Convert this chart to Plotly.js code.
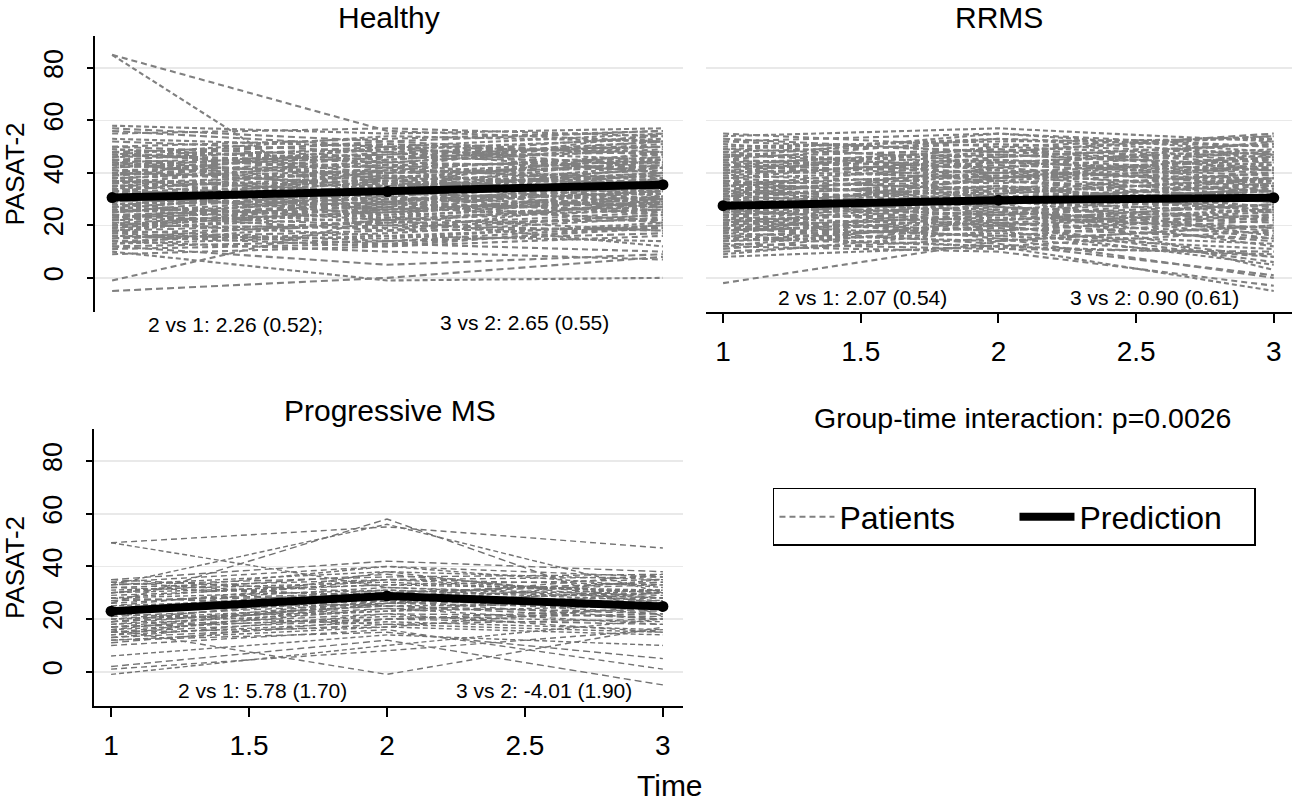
<!DOCTYPE html>
<html>
<head>
<meta charset="utf-8">
<script src="https://cdn.plot.ly/plotly-3.0.1.min.js"></script>
<style>
  html, body { margin: 0; padding: 0; background: #ffffff; }
  #chart { width: 1300px; height: 803px; }
</style>
</head>
<body>
<div id="chart"></div>
<script>
// Visit times
const times = [1, 2, 3];

// Healthy patients: PASAT-2 score at visit 1, 2 and 3 (one entry per patient)
const healthyT1 = [85, 85, -5, -1, 10, 12, 14, 58, 57, 55, 53, 52, 50, 49, 48, 47, 46, 45, 44, 43,
  42, 41, 40, 39, 38, 37, 36, 35, 34, 33, 32, 31, 30, 29, 28, 27, 26, 25, 24, 23,
  22, 21, 20, 19, 18, 17, 16, 15, 14, 13, 12, 11, 35, 45, 40, 30, 25, 20, 38, 33,
  28, 43, 48, 23, 18, 31, 36, 26, 41, 16, 21, 50, 34, 29, 24, 19, 39, 44, 27, 32,
  56, 9, 47, 22, 37, 13, 45, 40, 35, 30, 25, 20, 15, 47, 42, 37, 32, 27, 22, 17,
  44, 39, 34, 29, 24, 19, 49, 46, 33, 28, 23, 18, 38, 43, 31, 26];
const healthyT2 = [56, 18, 0, 23, -1, 5, 10, 55, 52, 57, 50, 48, 53, 45, 51, 44, 49, 42, 47, 40,
  46, 43, 38, 44, 41, 35, 40, 37, 39, 31, 36, 34, 28, 33, 30, 32, 25, 29, 27, 26,
  24, 25, 19, 23, 21, 20, 15, 18, 17, 16, 14, 13, 30, 38, 48, 38, 34, 28, 32, 42,
  22, 37, 40, 31, 26, 27, 45, 36, 35, 12, 16, 46, 26, 35, 20, 30, 50, 33, 41, 24,
  50, 12, 54, 33, 29, 22, 50, 36, 41, 26, 31, 25, 22, 42, 49, 33, 39, 23, 29, 13,
  39, 46, 29, 37, 18, 27, 44, 52, 28, 34, 29, 14, 43, 47, 38, 21];
const healthyT3 = [52, 30, 8, 18, 0, 9, 7, 57, 56, 54, 55, 50, 56, 52, 47, 49, 53, 46, 50, 45,
  48, 44, 46, 42, 47, 40, 43, 41, 36, 38, 34, 39, 33, 37, 32, 35, 30, 33, 28, 31,
  27, 29, 24, 26, 22, 25, 21, 19, 23, 14, 17, 10, 28, 36, 40, 44, 40, 35, 30, 36,
  26, 32, 42, 24, 30, 22, 51, 28, 39, 16, 20, 44, 31, 45, 18, 34, 48, 27, 38, 34,
  40, 20, 52, 42, 25, 12, 42, 48, 31, 36, 27, 33, 28, 55, 45, 42, 29, 31, 21, 19,
  35, 52, 40, 33, 24, 38, 50, 47, 26, 43, 36, 20, 37, 54, 30, 29];

// RRMS patients
const rrmsT1 = [-2, 8, 10, 12, 9, 11, 55, 54, 53, 52, 50, 49, 48, 47, 46, 45, 44, 43, 42, 41,
  40, 39, 38, 37, 36, 35, 34, 33, 32, 31, 30, 29, 28, 27, 26, 25, 24, 23, 22, 21,
  20, 19, 18, 17, 16, 15, 14, 13, 30, 25, 35, 20, 40, 15, 45, 28, 33, 38, 22, 43,
  18, 48, 27, 32, 12, 37, 24, 42, 29, 17, 51, 26, 36, 21, 31, 14, 46, 19, 44, 39,
  34, 29, 24, 19, 14, 49, 41, 36, 31, 26, 21, 16, 43, 38, 33, 28, 23, 18, 47, 52,
  35, 30, 25, 20, 40, 45, 27, 22];
const rrmsT2 = [14, 12, 15, 10, 18, 20, 50, 57, 48, 55, 52, 46, 51, 44, 49, 42, 47, 40, 45, 38,
  43, 36, 41, 34, 39, 32, 37, 30, 35, 28, 33, 26, 31, 24, 29, 22, 27, 20, 25, 18,
  23, 16, 21, 14, 19, 12, 17, 11, 38, 33, 44, 28, 50, 24, 53, 35, 27, 46, 30, 37,
  26, 41, 32, 40, 22, 29, 15, 48, 21, 25, 44, 38, 31, 29, 42, 20, 55, 13, 38, 45,
  28, 35, 30, 24, 21, 53, 47, 31, 37, 20, 27, 12, 49, 33, 39, 24, 31, 22, 42, 48,
  40, 25, 29, 16, 44, 40, 34, 18];
const rrmsT3 = [20, -5, 0, -3, 5, 8, 54, 52, 55, 50, 53, 51, 47, 49, 45, 48, 43, 46, 41, 44,
  39, 42, 37, 40, 35, 38, 33, 36, 31, 34, 29, 32, 27, 30, 25, 28, 23, 26, 21, 24,
  19, 22, 17, 20, 15, 18, 13, 10, 42, 37, 40, 34, 46, 28, 50, 25, 22, 51, 16, 30,
  12, 36, 38, 45, 26, 33, 8, 54, 14, 31, 41, 47, 26, 3, 35, 6, 48, 1, 46, 37,
  38, 27, 33, 18, 25, 47, 42, 35, 43, 24, 15, 9, 41, 40, 31, 35, 26, 28, 52, 44,
  33, 19, 36, 11, 48, 38, 29, 23];

// Progressive MS patients
const progT1 = [49, 49, 26, 16, 33, 35, 34, 33, 33, 32, 31, 30, 29, 28, 27, 26, 25, 24, 23, 22,
  21, 20, 20, 19, 18, 18, 17, 17, 16, 15, 15, 14, 13, 13, 12, 12, 10, 6, 2, 1,
  -1, 35, 34, 30, 28, 25, 22, 19, 16, 14, 11, 21, 30, 27, 24, 20, 17, 32, 23, 19,
  15, 28];
const progT2 = [55, 32, 58, -1, 56, 42, 40, 38, 36, 35, 34, 37, 33, 31, 30, 32, 29, 28, 27, 30,
  26, 28, 25, 24, 27, 23, 22, 26, 21, 20, 24, 19, 18, 22, 17, 15, 16, 14, 12, 8,
  10, 30, 28, 40, 25, 35, 18, 30, 27, 26, 20, 38, 33, 29, 31, 23, 20, 29, 26, 25,
  17, 35];
const progT3 = [47, 28, 21, 17, 30, 38, 36, 35, 37, 33, 30, 28, 35, 27, 34, 29, 31, 25, 30, 24,
  27, 22, 26, 23, 20, 25, 21, 24, 19, 22, 18, 16, 20, 15, 14, 5, 1, 10, -5, 16,
  20, 34, 37, 32, 20, 36, 15, 33, 28, 31, 24, 26, 31, 26, 28, 30, 18, 24, 35, 22,
  25, 30];

// Model predictions per group at visit 1, 2 and 3
const healthyPred = [30.6, 32.9, 35.5];
const rrmsPred = [27.5, 29.6, 30.5];
const progPred = [23.0, 28.8, 24.8];

// Contrast labels under each panel
const healthyNotes = ['2 vs 1: 2.26 (0.52);', '3 vs 2: 2.65 (0.55)'];
const rrmsNotes = ['2 vs 1: 2.07 (0.54)', '3 vs 2: 0.90 (0.61)'];
const progNotes = ['2 vs 1: 5.78 (1.70)', '3 vs 2: -4.01 (1.90)'];

const panelTitles = ['Healthy', 'RRMS', 'Progressive MS'];
const interactionText = 'Group-time interaction: p=0.0026';
const yTicks = [0, 20, 40, 60, 80];
const xTicks = [1, 1.5, 2, 2.5, 3];

const FONT = 'Liberation Sans, Arial, sans-serif';
// a few dash rhythms so the dashes of neighbouring patients do not line up in columns
const DASHES = ['6px,4px', '5px,3px', '7px,4px'];

/**
 * Join the patients' three visits into dashed traces, with null gaps between patients.
 * Patients are dealt over DASHES.length traces, one per dash rhythm.
 */
function patientTraces(t1, t2, t3, xa, ya, legend, width, color) {
  let traces = [];
  for (let d = 0; d < DASHES.length; d++) {
    let x = [];
    let y = [];
    for (let i = d; i < t1.length; i += DASHES.length) {
      x.push(times[0], times[1], times[2], null);
      y.push(t1[i], t2[i], t3[i], null);
    }
    traces.push({ x: x, y: y, xaxis: xa, yaxis: ya,
      mode: 'lines', type: 'scatter', name: 'Patients', legendgroup: 'patients',
      line: {color: color, width: width, dash: DASHES[d]},
      connectgaps: false, showlegend: legend && d === 0, hoverinfo: 'skip'
    });
  }
  return traces;
}

function predTraces(pred, xa, ya, legend) {
  return [
    { x: times, y: pred, xaxis: xa, yaxis: ya, mode: 'lines', type: 'scatter',
      name: 'Prediction', line: {color: '#000000', width: 8}, showlegend: legend },
    { x: times, y: pred, xaxis: xa, yaxis: ya, mode: 'markers', type: 'scatter',
      marker: {color: '#000000', size: 11}, showlegend: false, hoverinfo: 'skip' }
  ];
}

let data = [];
data = data.concat(patientTraces(healthyT1, healthyT2, healthyT3, 'x', 'y', true, 2.1, '#808080'));
data = data.concat(predTraces(healthyPred, 'x', 'y', true));
data = data.concat(patientTraces(rrmsT1, rrmsT2, rrmsT3, 'x2', 'y2', false, 2.1, '#808080'));
data = data.concat(predTraces(rrmsPred, 'x2', 'y2', false));
data = data.concat(patientTraces(progT1, progT2, progT3, 'x3', 'y3', false, 1.4, '#727272'));
data = data.concat(predTraces(progPred, 'x3', 'y3', false));

const yRange = [-13, 92.2];
const xRange = [0.938, 3.073];

function yAxis(domain, anchor, labelled) {
  let ax = {
    domain: domain, anchor: anchor, range: yRange, automargin: false,
    tickvals: yTicks, showgrid: true, gridcolor: '#e9e9e9', gridwidth: 1.5,
    zeroline: false, fixedrange: true
  };
  if (labelled) {
    ax.showline = true;
    ax.linecolor = '#000000';
    ax.linewidth = 2;
    ax.ticks = 'outside';
    ax.ticklen = 6;
    ax.tickwidth = 2;
    ax.tickcolor = '#000000';
    ax.tickangle = -90;
    ax.ticklabelstandoff = 13;
    ax.tickfont = {family: FONT, size: 27, color: '#000000'};
    ax.title = {text: 'PASAT-2', font: {family: FONT, size: 26, color: '#000000'}, standoff: 16};
  } else {
    ax.showline = false;
    ax.showticklabels = false;
    ax.ticks = '';
  }
  return ax;
}

function xAxis(domain, anchor, range, shown) {
  let ax = { domain: domain, anchor: anchor, range: range, automargin: false,
    showgrid: false, zeroline: false, fixedrange: true };
  if (shown) {
    ax.showline = true;
    ax.linecolor = '#000000';
    ax.linewidth = 2;
    ax.ticks = 'outside';
    ax.ticklen = 9;
    ax.tickwidth = 2;
    ax.tickcolor = '#000000';
    ax.tickvals = xTicks;
    ax.ticktext = xTicks.map(String);
    ax.ticklabelstandoff = 4;
    ax.tickfont = {family: FONT, size: 28, color: '#000000'};
  } else {
    ax.visible = false;
  }
  return ax;
}

function note(text, x, y, size) {
  return { text: text, x: x, y: y, xref: 'paper', yref: 'paper',
    xanchor: 'center', yanchor: 'middle', showarrow: false,
    font: {family: FONT, size: size, color: '#000000'} };
}

const annotations = [
  note(panelTitles[0], 0.2992, 0.9776, 30),
  note(panelTitles[1], 0.7685, 0.9776, 30),
  note(panelTitles[2], 0.300, 0.4894, 30),
  note(healthyNotes[0], 0.1808, 0.5965, 21),
  note(healthyNotes[1], 0.4035, 0.5990, 21),
  note(rrmsNotes[0], 0.6631, 0.6289, 21),
  note(rrmsNotes[1], 0.8877, 0.6289, 21),
  note(progNotes[0], 0.2023, 0.1407, 21),
  note(progNotes[1], 0.4185, 0.1407, 21),
  note(interactionText, 0.7865, 0.4795, 28.5),
  note('Time', 0.5154, 0.0212, 30)
];

const layout = {
  width: 1300, height: 803,
  margin: {l: 0, r: 0, t: 0, b: 0, autoexpand: false},
  paper_bgcolor: '#ffffff', plot_bgcolor: '#ffffff',
  font: {family: FONT, color: '#000000'},
  xaxis: xAxis([0.0731, 0.5254], 'y', xRange, false),
  yaxis: yAxis([0.6115, 0.9552], 'x', true),
  xaxis2: xAxis([0.5431, 0.9938], 'y2', [0.938, 3.066], true),
  yaxis2: yAxis([0.6115, 0.9552], 'x2', false),
  xaxis3: xAxis([0.0723, 0.5254], 'y3', xRange, true),
  yaxis3: yAxis([0.1208, 0.4658], 'x3', true),
  showlegend: true,
  legend: {
    orientation: 'h', x: 0.5946, y: 0.3923, xanchor: 'left', yanchor: 'top',
    bordercolor: '#000000', borderwidth: 1.5, bgcolor: '#ffffff',
    font: {family: FONT, size: 32, color: '#000000'},
    itemwidth: 55, entrywidth: 170, traceorder: 'normal'
  },
  annotations: annotations
};

Plotly.newPlot('chart', data, layout, {displayModeBar: false, staticPlot: true});
</script>
</body>
</html>
